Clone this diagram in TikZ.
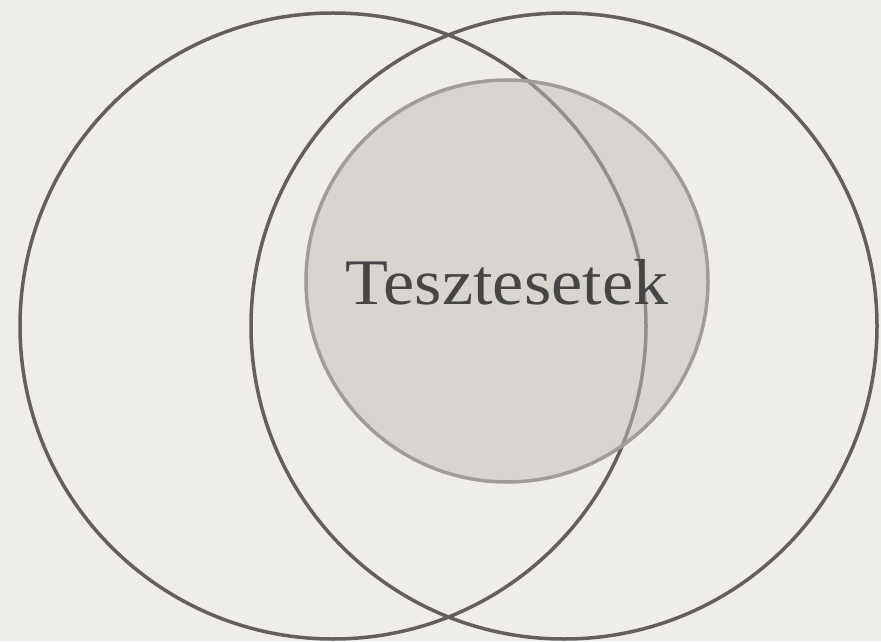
\documentclass[tikz,border=0pt]{standalone}
\usepackage{fontspec}
\setmainfont{Liberation Serif}

\definecolor{paper}{HTML}{EFEDE9}
\definecolor{ringline}{HTML}{63605C}
\definecolor{innerfill}{HTML}{C3BDB7}
\definecolor{innerline}{HTML}{A09D99}
\definecolor{labeltext}{HTML}{454545}

\tikzset{
  bigring/.style={draw=ringline, line width=3.5pt},
  innerring/.style={draw=innerline, line width=3.5pt, fill=innerfill, fill opacity=0.5},
  ringlabel/.style={text=labeltext, font=\fontsize{65}{70}\selectfont, inner sep=0pt, anchor=base, xscale=1.08}
}

\begin{document}
\begin{tikzpicture}[x=1pt, y=1pt]

    % hattér
    \fill[paper] (0,0) rectangle (881,641);
    \useasboundingbox (0,0) rectangle (881,641);

    % két nagy kör
    \draw[bigring] (333,315) circle (313);
    \draw[bigring] (564,315) circle (313);

    % belső kör (áttetsző)
    \draw[innerring] (507,360) circle (201);

    % felirat
    \node[ringlabel] (tesztesetek) at (507,336) {Tesztesetek};

\end{tikzpicture}
\end{document}
